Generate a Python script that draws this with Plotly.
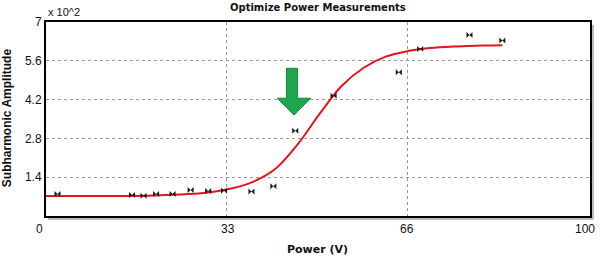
import plotly.graph_objects as go

# Measured points (Power in V, Subharmonic Amplitude in x10^2)
power = [2.1, 15.7, 17.8, 20.1, 23.1, 26.4, 29.6, 32.5, 37.5, 41.5, 45.5, 52.5, 64.4, 68.3, 77.3, 83.3]
amplitude = [0.79, 0.76, 0.73, 0.79, 0.79, 0.94, 0.90, 0.91, 0.88, 1.07, 3.08, 4.34, 5.19, 6.03, 6.53, 6.33]

# Fitted curve
fit_x = [0, 10, 20, 26, 30, 34, 38, 42, 46, 50, 54, 58, 62, 66, 70, 75, 80, 83.3]
fit_y = [0.72, 0.72, 0.74, 0.79, 0.86, 1.0, 1.25, 1.72, 2.6, 3.7, 4.7, 5.35, 5.75, 5.95, 6.06, 6.12, 6.15, 6.16]

x_grid = [33, 66]
x_tick_labels = ["0", "33", "66", "100"]
y_ticks = [1.4, 2.8, 4.2, 5.6, 7]
y_tick_text = ["1.4", "2.8", "4.2", "5.6", "7"]

W, H = 600, 263
ML, MR, MT, MB = 46, 8, 22, 47

fig = go.Figure()
fig.add_trace(go.Scatter(x=fit_x, y=fit_y, mode="lines", line=dict(color="#e3141b", width=2, shape="spline"),
                         hoverinfo="skip", showlegend=False))
fig.add_trace(go.Scatter(x=power, y=amplitude, mode="markers",
                         marker=dict(symbol="bowtie", size=6, color="#1a1a1a", line=dict(width=0)),
                         showlegend=False))

# green arrow
arrow = "M 43.9 5.33 L 45.9 5.33 L 45.9 4.25 L 48.3 4.25 L 45.3 3.64 L 42.2 4.25 L 43.9 4.25 Z"
fig.add_shape(type="path", path=arrow, xref="x", yref="y", fillcolor="#1fa64f",
              line=dict(color="#168a3c", width=1))

pw = W - ML - MR
ph = H - MT - MB
def px(xp):
    return (xp - ML) / pw
def py(yp):
    return 1 - (yp - MT) / ph

# shadow of frame
fig.add_shape(type="line", xref="paper", yref="paper", x0=px(48), x1=px(595), y0=py(219), y1=py(219),
              line=dict(color="#bbbbbb", width=2), layer="below")
fig.add_shape(type="line", xref="paper", yref="paper", x0=px(595), x1=px(595), y0=py(25), y1=py(219),
              line=dict(color="#bbbbbb", width=2), layer="below")

arial = "Liberation Sans, Arial"
txt = "#111111"

def label(text, xp, yp, size, family=arial, angle=0, bold=False):
    fig.add_annotation(text=f"<b>{text}</b>" if bold else text, xref="paper", yref="paper",
                       x=px(xp), y=py(yp), xanchor="center", yanchor="middle", showarrow=False,
                       textangle=angle, font=dict(family=family, size=size, color=txt))

# x tick labels
for t, xp in zip(x_tick_labels, [39, 229, 408, 587]):
    label(t, xp, 229, 12)
label("x 10^2", 64, 12, 11)
label("Optimize Power Measurements", 319, 7, 10, family="DejaVu Sans", bold=True)
label("Power (V)", 318, 249, 11, family="DejaVu Sans", bold=True)
label("Subharmonic Amplitude", 7, 118, 12, angle=-90, bold=True)

fig.update_layout(
    width=W, height=H,
    margin=dict(l=ML, r=MR, t=MT, b=MB),
    paper_bgcolor="white", plot_bgcolor="white",
    hovermode=False,
    xaxis=dict(range=[0, 99.3], tickvals=x_grid, showticklabels=False, showgrid=True,
               gridcolor="#999999", griddash="dot", gridwidth=1, zeroline=False,
               showline=True, mirror=True, linecolor="#000", linewidth=2, ticks=""),
    yaxis=dict(range=[0, 7], tickvals=y_ticks, ticktext=y_tick_text, showgrid=True,
               gridcolor="#999999", griddash="dot", gridwidth=1, zeroline=False,
               showline=True, mirror=True, linecolor="#000", linewidth=2, ticks="",
               tickfont=dict(family=arial, size=12, color=txt)),
)

fig.write_html("out.html", config={"displayModeBar": False},
               post_script="document.body.style.margin='0';document.body.style.overflow='hidden';")
